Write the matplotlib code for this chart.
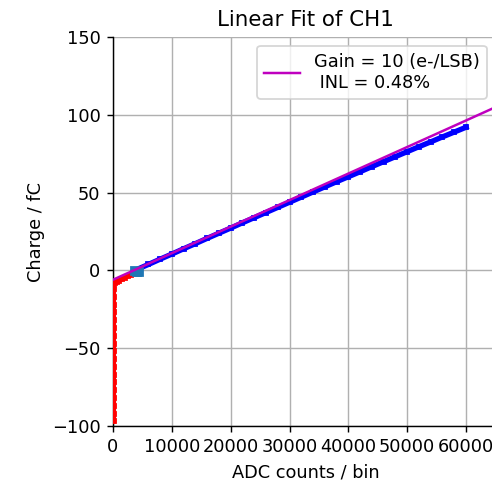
import matplotlib
matplotlib.use("Agg")
import matplotlib.pyplot as plt

# Linear region (blue)
blue_x = [4000, 6000, 8000, 10000, 12000, 14000, 16000, 18000, 20000, 22000,
          24000, 26000, 28000, 30000, 32000, 34000, 36000, 38000, 40000, 42000,
          44000, 46000, 48000, 50000, 52000, 54000, 56000, 58000, 60000]
blue_y = [0.5, 3.8, 7.2, 10.5, 13.9, 17.2, 20.6, 23.9, 27.2, 30.6,
          33.9, 37.2, 40.5, 43.8, 47.1, 50.4, 53.7, 57.0, 60.2, 63.4,
          66.7, 69.9, 73.1, 76.3, 79.5, 82.6, 85.8, 88.9, 92.0]

# Low region (red)
red_x = [150, 150, 150, 150, 150, 150, 150, 150, 150, 150, 150, 150, 150, 150, 150, 150, 150, 150,
         300, 600, 1000, 1500, 2000, 2500, 3000, 3500]
red_y = [-97, -92, -87, -82, -77, -72, -67, -62, -57, -52, -47, -42, -37, -32, -27, -22, -17, -12,
         -8.0, -7.5, -6.8, -5.8, -4.8, -3.8, -2.8, -1.8]

# Transition points (squares)
sq_x = [3700, 4100, 4500]
sq_y = [-0.5, -1.0, -1.2]

# Fit line
fit_x = [0, 65536]
fit_y = [-6.0, 105.8]
fit_label = "Gain = 10 (e-/LSB)\n INL = 0.48%"

DPI = 128
fig = plt.figure(figsize=(492 / DPI, 482 / DPI), dpi=DPI)
ax = fig.add_axes([113 / 492, 56 / 482, 385.6 / 492, 389 / 482])

ax.plot(blue_x, blue_y, color="blue", lw=3, marker="s", ms=2.5, zorder=2)
ax.plot(red_x, red_y, color="red", lw=2.5, marker="s", ms=2, zorder=3)
ax.plot(sq_x, sq_y, linestyle="none", marker="s", ms=4.5, color="#1f77b4", zorder=3)
ax.plot(fit_x, fit_y, color="m", lw=1.4, label=fit_label, zorder=4)

ax.set_xlim(0, 65536)
ax.set_ylim(-100, 150)
ax.set_xticks([0, 10000, 20000, 30000, 40000, 50000, 60000])
ax.set_yticks([-100, -50, 0, 50, 100, 150])
ax.grid(True, color="#b0b0b0", lw=0.8)
ax.set_axisbelow(True)
ax.spines["top"].set_visible(False)
ax.spines["right"].set_visible(False)
ax.set_title("Linear Fit of CH1", fontsize=12)
ax.set_xlabel("ADC counts / bin")
ax.set_ylabel("Charge / fC")
ax.legend(loc="upper right", bbox_to_anchor=(0.993, 1.0))

fig.savefig("out.png", dpi=DPI)
